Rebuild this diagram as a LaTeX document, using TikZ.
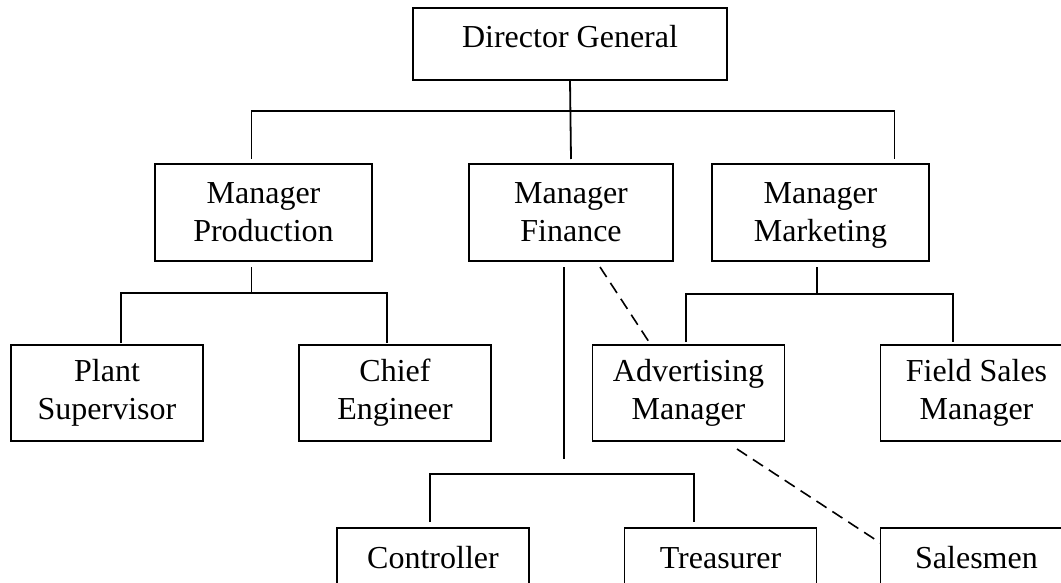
\documentclass[tikz,border=0pt]{standalone}
\usepackage{fontspec}
\setmainfont{Liberation Serif}
\usepackage{tikz}
\usetikzlibrary{positioning}
\tikzstyle{post} = [rectangle, draw=black, line width=1.8pt, outer sep=0pt, inner sep=0pt, align=center, font=\fontsize{32}{38}\selectfont]
\tikzstyle{boss} = [post, minimum width=314pt, minimum height=72pt, text height=22pt, text depth=14pt]
\tikzstyle{head} = [post, minimum width=217pt, minimum height=97pt]
\tikzstyle{unit} = [post, minimum width=192pt, minimum height=96pt]
\tikzstyle{staff} = [post, minimum width=192pt, minimum height=96pt, text height=40pt, text depth=56pt]
\tikzstyle{link} = [line width=1.8pt]
\tikzstyle{dotline} = [line width=1.6pt, dash pattern=on 12pt off 7pt]

\begin{document}
\begin{tikzpicture}[x=1pt,y=-1pt]
      \clip (0,0) rectangle (1061,583);
      \node (dg) [boss] at (570,44) {Director General};
      \node (prod) [head] at (263.5,212.5) {Manager\\Production};
      \node (fin) [head, minimum width=204pt] at (571,212.5) {Manager\\Finance};
      \node (mkt) [head] at (820.5,212.5) {Manager\\\smash{Marketing}};
      \node (plant) [unit] at (107,393) {Plant\\Supervisor};
      \node (chief) [unit] at (395,393) {Chief\\Engineer};
      \node (adv) [unit] at (688.5,393) {Advertising\\Manager};
      \node (field) [unit] at (976.5,393) {Field Sales\\Manager};
      \node (ctrl) [staff] at (433,576) {Controller};
      \node (treas) [staff] at (720.5,576) {Treasurer};
      \node (sales) [staff] at (976.5,576) {Salesmen};
      \coordinate (finend) at (564,459);
      \draw [link] (dg.south) -- ([yshift=5pt]fin.north);
      \draw [link] ([xshift=-12pt,yshift=5pt]prod.north) -- ++(0,-48) -| ([xshift=74pt,yshift=5pt]mkt.north);
      \draw [link] ([xshift=-12pt,yshift=-6pt]prod.south) -- ++(0,26);
      \draw [link] ([xshift=14pt,yshift=2pt]plant.north) -- ++(0,-50) -| ([xshift=-8pt,yshift=2pt]chief.north);
      \draw [link] ([xshift=-3.5pt,yshift=-6pt]mkt.south) -- ++(0,27);
      \draw [link] ([xshift=-2.5pt,yshift=3pt]adv.north) -- ++(0,-48) -| ([xshift=-23.5pt,yshift=3pt]field.north);
      \draw [link] ([xshift=-7pt,yshift=-6pt]fin.south) -- (finend);
      \draw [link] ([xshift=-3pt,yshift=6pt]ctrl.north) -- ++(0,-48) -| ([xshift=-26.5pt,yshift=6pt]treas.north);
      \draw [dotline] ([xshift=29pt,yshift=-6pt]fin.south) -- ([xshift=-37.5pt]adv.north);
      \draw [dotline] ([xshift=48.5pt,yshift=-8pt]adv.south) -- ([yshift=-15pt]sales.north west);
    \end{tikzpicture}
\end{document}
